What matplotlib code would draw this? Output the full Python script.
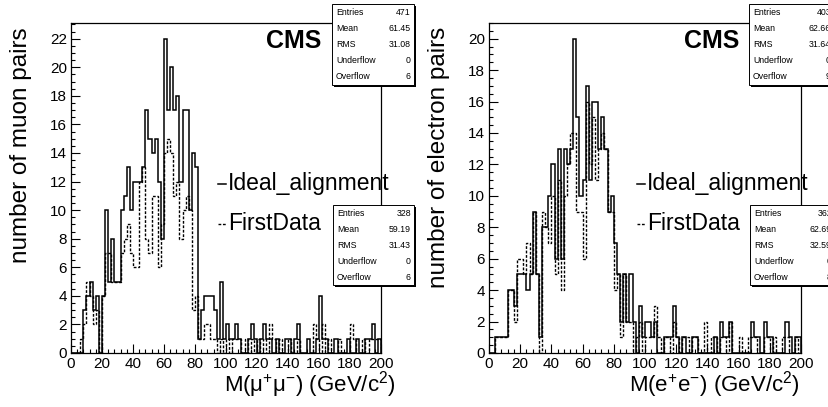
import numpy as np
import matplotlib
matplotlib.use("Agg")
import matplotlib.pyplot as plt
from matplotlib.patches import Rectangle
from matplotlib.lines import Line2D
from matplotlib.ticker import MultipleLocator

plt.rcParams['font.family'] = ['Liberation Sans', 'DejaVu Sans']
plt.rcParams['mathtext.fontset'] = 'custom'
plt.rcParams['mathtext.rm'] = 'Liberation Sans'
plt.rcParams['mathtext.it'] = 'Liberation Sans'
plt.rcParams['mathtext.default'] = 'regular'

# 100 bins of 2 GeV from 0 to 200
edges = np.arange(0, 202, 2)

mu_ideal = [0, 0, 0, 0, 3, 4, 5, 3, 4, 0,
            4, 10, 5, 8, 5, 5, 10, 11, 13, 10,
            12, 12, 12, 13, 17, 15, 14, 15, 12, 8,
            22, 17, 20, 17, 18, 12, 17, 17, 10, 14,
            13, 1, 3, 4, 4, 4, 3, 1, 5, 1,
            2, 1, 1, 2, 1, 0, 0, 1, 2, 1,
            0, 1, 2, 1, 1, 0, 1, 0, 0, 1,
            1, 0, 1, 2, 0, 0, 1, 0, 0, 1,
            4, 1, 1, 0, 0, 1, 0, 0, 0, 1,
            0, 0, 1, 0, 0, 1, 1, 2, 0, 1]

mu_first = [0, 0, 0, 1, 2, 5, 4, 2, 3, 0,
            4, 7, 7, 5, 5, 5, 7, 8, 9, 7,
            6, 6, 12, 13, 8, 7, 11, 11, 6, 9,
            14, 15, 14, 11, 12, 8, 10, 11, 10, 3,
            4, 1, 1, 2, 2, 1, 1, 0, 1, 0,
            1, 0, 1, 1, 1, 0, 1, 0, 1, 0,
            1, 0, 1, 0, 2, 1, 0, 1, 0, 0,
            1, 0, 0, 1, 0, 0, 0, 0, 2, 1,
            0, 2, 0, 1, 0, 0, 1, 0, 0, 0,
            2, 1, 0, 0, 1, 0, 1, 1, 1, 1]

e_ideal = [0, 0, 1, 1, 1, 1, 4, 4, 3, 5,
           5, 5, 4, 5, 9, 5, 1, 8, 8, 10,
           12, 6, 13, 6, 13, 12, 13, 20, 15, 10,
           11, 17, 11, 16, 16, 13, 15, 13, 9, 10,
           7, 5, 2, 5, 2, 5, 2, 0, 3, 1,
           2, 2, 1, 2, 0, 0, 1, 1, 1, 3,
           1, 0, 1, 0, 0, 1, 1, 0, 0, 0,
           0, 0, 1, 0, 2, 1, 1, 2, 0, 0,
           0, 0, 0, 0, 2, 1, 1, 0, 2, 1,
           1, 0, 0, 0, 0, 2, 1, 0, 1, 1]

e_first = [0, 0, 1, 1, 1, 1, 4, 4, 2, 6,
           6, 5, 7, 5, 9, 5, 0, 9, 8, 7,
           10, 5, 11, 4, 10, 12, 14, 14, 9, 9,
           6, 16, 12, 15, 11, 13, 14, 13, 9, 9,
           4, 5, 1, 5, 2, 2, 0, 1, 2, 0,
           1, 1, 1, 3, 1, 0, 1, 1, 0, 2,
           1, 0, 1, 1, 0, 1, 1, 0, 0, 2,
           0, 1, 1, 0, 1, 1, 0, 2, 0, 0,
           1, 0, 0, 1, 1, 1, 0, 0, 1, 1,
           0, 1, 0, 0, 1, 1, 0, 0, 1, 0]

stat_names = ["Entries", "Mean", "RMS", "Underflow", "Overflow"]
mu_ideal_stats = ["471", "61.45", "31.08", "0", "6"]
mu_first_stats = ["328", "59.19", "31.43", "0", "6"]
e_ideal_stats = ["403", "62.66", "31.64", "0", "9"]
e_first_stats = ["362", "62.69", "32.59", "0", "8"]

W, H = 829, 407
fig = plt.figure(figsize=(W / 100, H / 100), dpi=100)
fig.patch.set_facecolor('white')


def fx(x):
    return x / W


def fy(y):
    return 1 - y / H


def stats_box(x0, y0, x1, y1, values):
    shadow = Rectangle((fx(x0 + 2), fy(y1 + 2)), (x1 - x0) / W, (y1 - y0) / H,
                       transform=fig.transFigure, facecolor='black',
                       edgecolor='none', zorder=10)
    box = Rectangle((fx(x0), fy(y1)), (x1 - x0) / W, (y1 - y0) / H,
                    transform=fig.transFigure, facecolor='white',
                    edgecolor='black', lw=0.7, zorder=11)
    fig.add_artist(shadow)
    fig.add_artist(box)
    dy = (y1 - y0) / 5
    for i, (name, val) in enumerate(zip(stat_names, values)):
        yc = y0 + (i + 0.5) * dy
        fig.text(fx(x0 + 4), fy(yc), name, ha='left', va='center',
                 fontsize=6.3, zorder=12)
        fig.text(fx(x1 - 3), fy(yc), val, ha='right', va='center',
                 fontsize=6.3, zorder=12)


def panel(left, right, ymax, ideal, first, ylabel, xlabel, ylab_x, xlab_right,
          cms_x, leg_x):
    ax = fig.add_axes([fx(left), fy(353), (right - left) / W, (353 - 23) / H])
    ax.stairs(ideal, edges, color='black', lw=1.1)
    ax.stairs(first, edges, color='black', lw=1.0, linestyle=(0, (2, 1.2)))
    ax.set_xlim(0, 200)
    ax.set_ylim(0, ymax)
    ax.xaxis.set_major_locator(MultipleLocator(20))
    ax.xaxis.set_minor_locator(MultipleLocator(4))
    ax.yaxis.set_major_locator(MultipleLocator(2))
    ax.yaxis.set_minor_locator(MultipleLocator(0.5))
    ax.tick_params(which='major', direction='in', length=6.5, width=0.8,
                   labelsize=11, top=False, right=False)
    ax.tick_params(which='minor', direction='in', length=3.2, width=0.8,
                   top=False, right=False)
    ax.tick_params(axis='x', pad=3)
    ax.tick_params(axis='y', pad=3)
    for s in ax.spines.values():
        s.set_linewidth(0.9)

    fig.text(fx(ylab_x), fy(27), ylabel, rotation=90, ha='center', va='top',
             fontsize=17.5)
    fig.text(fx(xlab_right), fy(392), xlabel, ha='right', va='baseline',
             fontsize=16)
    fig.text(fx(cms_x), fy(41), "CMS", ha='center', va='center',
             fontsize=18, weight='bold', zorder=5)

    fig.add_artist(Line2D([fx(leg_x), fx(leg_x + 8)], [fy(184), fy(184)],
                          color='black', lw=1.1, transform=fig.transFigure))
    fig.text(fx(leg_x + 10), fy(184), "Ideal_alignment", ha='left',
             va='center', fontsize=16.5)
    fig.add_artist(Line2D([fx(leg_x), fx(leg_x + 8)], [fy(224), fy(224)],
                          color='black', lw=1.0, linestyle=(0, (2, 1.2)),
                          transform=fig.transFigure))
    fig.text(fx(leg_x + 10), fy(224), "FirstData", ha='left',
             va='center', fontsize=16.5)
    return ax


panel(71, 381, 23.1, mu_ideal, mu_first, "number of muon pairs",
      r"M(μ$^{+}$μ$^{-}$) (GeV/c$^{2}$)", 21, 396, 294, 218)
panel(489, 801, 21.0, e_ideal, e_first, "number of electron pairs",
      r"M(e$^{+}$e$^{-}$) (GeV/c$^{2}$)", 439, 800, 712, 637)

stats_box(332, 4, 414, 85, mu_ideal_stats)
stats_box(333, 205, 414, 285, mu_first_stats)
stats_box(749, 4, 834, 85, e_ideal_stats)
stats_box(750, 205, 835, 285, e_first_stats)

fig.savefig("out.png", dpi=100)
